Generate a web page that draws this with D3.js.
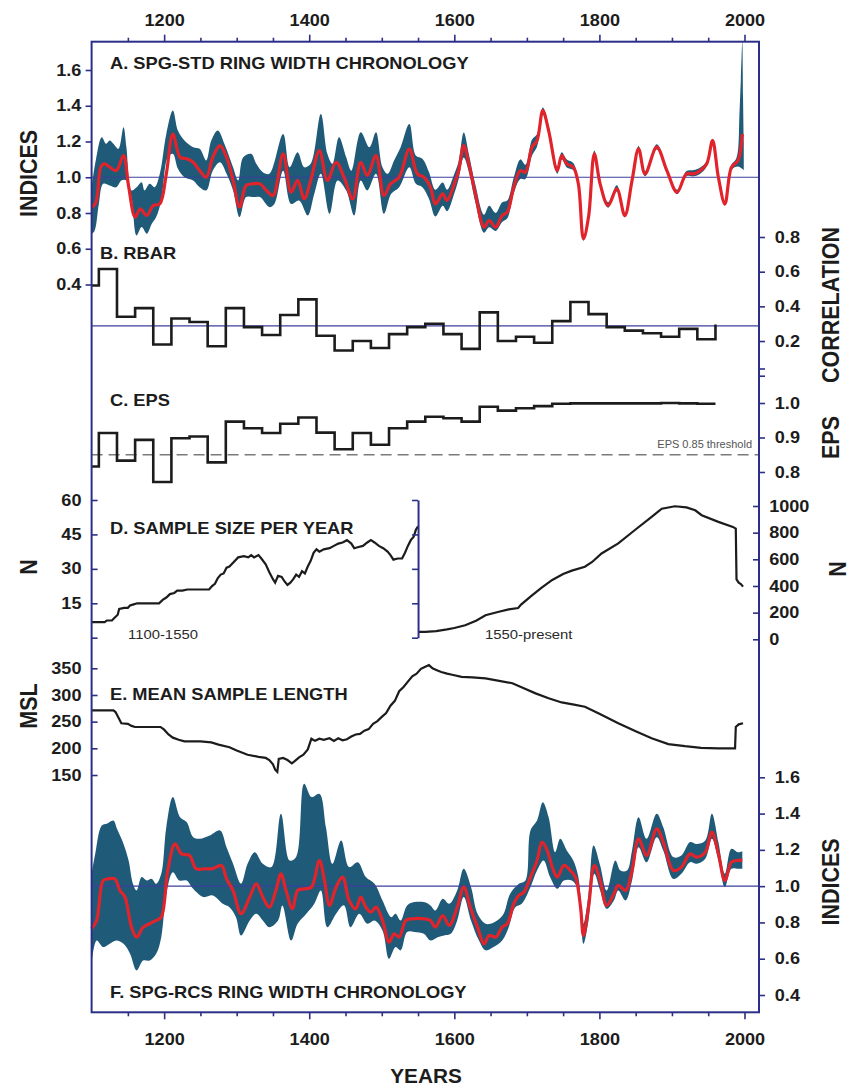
<!DOCTYPE html>
<html>
<head>
<meta charset="utf-8">
<script src="https://cdn.jsdelivr.net/npm/d3@7"></script>
<style>
  html, body { margin: 0; padding: 0; background: #fff; }
  svg { display: block; font-family: "Liberation Sans", Arial, sans-serif; }
</style>
</head>
<body>
<div id="chart"></div>
<script>
// ---- tick values ----
const yearMajor = [1200, 1400, 1600, 1800, 2000];
const yearMinor = [1150, 1250, 1300, 1350, 1450, 1500, 1550, 1650, 1700, 1750, 1850, 1900, 1950];
const indexTicks = [0.4, 0.6, 0.8, 1.0, 1.2, 1.4, 1.6];
const rbarTicks = [0, 0.2, 0.4, 0.6, 0.8];
const epsTicks = [0.8, 0.9, 1.0, 1.1];
const nLeftTicks = [0, 15, 30, 45, 60];
const nRightTicks = [0, 200, 400, 600, 800, 1000];
const mslTicks = [150, 200, 250, 300, 350];

// ---- A. SPG-STD chronology: smoothed index and its band ----
const stdMean = [[1100,0.83],[1106,0.86],[1113,1.06],[1118,1.075],[1125,1.056],[1134,1.037],[1144,1.121],[1151,0.95],[1160,0.777],[1167,0.823],[1176,0.786],[1185,0.842],[1194,0.851],[1203,1.019],[1212,1.242],[1222,1.112],[1231,1.103],[1240,1.084],[1249,1.037],[1258,1.0],[1267,1.112],[1277,1.177],[1286,1.112],[1295,0.982],[1304,0.833],[1313,0.954],[1322,0.963],[1332,0.963],[1341,0.926],[1350,0.898],[1364,1.131],[1375,0.917],[1384,0.982],[1393,0.879],[1402,0.982],[1414,1.149],[1425,0.982],[1437,1.084],[1448,1.0],[1460,0.879],[1471,1.084],[1480,1.01],[1492,1.121],[1503,0.898],[1512,0.963],[1524,1.0],[1538,1.158],[1549,1.019],[1558,1.0],[1567,0.945],[1574,0.851],[1584,0.907],[1590,0.87],[1600,0.963],[1606,1.037],[1613,1.177],[1620,1.075],[1629,0.907],[1641,0.721],[1648,0.758],[1657,0.721],[1666,0.786],[1673,0.805],[1682,0.945],[1691,1.037],[1698,1.028],[1707,1.168],[1714,1.205],[1722,1.373],[1730,1.261],[1742,1.037],[1748,1.121],[1755,1.075],[1764,1.056],[1771,0.963],[1778,0.656],[1785,0.777],[1793,1.131],[1801,0.963],[1812,0.842],[1824,0.935],[1835,0.786],[1845,0.982],[1854,1.159],[1863,1.019],[1879,1.168],[1893,1.037],[1907,0.916],[1920,1.019],[1930,1.019],[1939,1.037],[1948,1.075],[1956,1.205],[1964,1.0],[1973,0.851],[1982,1.056],[1991,1.093],[1997,1.242]];
const stdUpper = [[1100,0.944],[1106,1.1],[1114,1.224],[1120,1.187],[1125,1.205],[1130,1.187],[1137,1.159],[1144,1.28],[1148,1.168],[1155,0.926],[1162,0.944],[1169,0.972],[1173,0.926],[1180,0.963],[1187,0.944],[1194,1.019],[1203,1.242],[1212,1.373],[1219,1.261],[1228,1.205],[1240,1.168],[1249,1.159],[1258,1.094],[1265,1.205],[1274,1.261],[1283,1.187],[1295,1.056],[1302,0.982],[1309,1.112],[1320,1.131],[1327,1.075],[1336,1.028],[1345,1.019],[1364,1.242],[1373,1.056],[1384,1.14],[1393,1.056],[1402,1.075],[1416,1.354],[1425,1.131],[1432,1.075],[1441,1.224],[1451,1.112],[1458,1.037],[1471,1.252],[1483,1.168],[1492,1.252],[1501,1.056],[1508,1.019],[1517,1.094],[1526,1.168],[1538,1.298],[1547,1.121],[1556,1.103],[1565,1.03],[1574,0.93],[1584,0.97],[1590,0.93],[1600,1.02],[1606,1.09],[1613,1.25],[1620,1.13],[1629,0.96],[1641,0.79],[1648,0.84],[1657,0.80],[1666,0.86],[1673,0.87],[1682,1.0],[1691,1.10],[1698,1.07],[1707,1.21],[1714,1.24],[1722,1.39],[1730,1.29],[1742,1.06],[1748,1.14],[1755,1.10],[1764,1.08],[1771,0.98],[1778,0.67],[1785,0.79],[1793,1.15],[1801,0.98],[1812,0.86],[1824,0.955],[1835,0.80],[1845,1.0],[1854,1.175],[1863,1.035],[1879,1.185],[1893,1.05],[1907,0.93],[1920,1.035],[1930,1.04],[1939,1.055],[1948,1.09],[1956,1.215],[1964,1.01],[1973,0.86],[1982,1.07],[1988,1.10],[1991,1.15],[1993,1.35],[1995,1.55],[1997,1.76],[1998,1.45],[1999,1.2]];
const stdLower = [[1100,0.684],[1104,0.70],[1110,0.85],[1116,0.963],[1125,0.954],[1134,0.944],[1141,0.982],[1148,0.982],[1155,0.889],[1162,0.674],[1169,0.721],[1176,0.684],[1183,0.74],[1189,0.777],[1196,0.87],[1205,1.112],[1212,1.131],[1219,1.047],[1228,1.0],[1240,0.982],[1249,0.944],[1258,0.926],[1267,1.037],[1277,1.084],[1286,1.019],[1295,0.926],[1304,0.777],[1313,0.889],[1322,0.889],[1332,0.889],[1345,0.833],[1352,0.851],[1364,1.037],[1375,0.851],[1386,0.87],[1398,0.786],[1407,0.907],[1416,1.019],[1428,0.795],[1439,0.982],[1451,0.926],[1462,0.786],[1471,0.982],[1480,0.926],[1492,1.019],[1503,0.795],[1513,0.907],[1524,0.944],[1538,1.056],[1547,0.963],[1556,0.944],[1565,0.88],[1574,0.78],[1584,0.84],[1590,0.81],[1600,0.91],[1606,0.99],[1613,1.11],[1620,1.03],[1629,0.86],[1641,0.69],[1648,0.72],[1657,0.70],[1666,0.75],[1673,0.77],[1682,0.91],[1691,0.99],[1698,0.99],[1707,1.12],[1714,1.17],[1722,1.35],[1730,1.24],[1742,1.02],[1748,1.10],[1755,1.055],[1764,1.04],[1771,0.95],[1778,0.645],[1785,0.765],[1793,1.115],[1801,0.95],[1812,0.83],[1824,0.92],[1835,0.775],[1845,0.97],[1854,1.145],[1863,1.005],[1879,1.155],[1893,1.025],[1907,0.905],[1920,1.005],[1930,1.005],[1939,1.02],[1948,1.06],[1956,1.195],[1964,0.99],[1973,0.84],[1982,1.04],[1991,1.06],[1999,1.04]];

// ---- B. RBAR and C. EPS, 25-year windows ----
const windowStarts = [1100,1110,1135,1160,1185,1210,1235,1260,1285,1310,1335,1360,1385,1410,1435,1460,1485,1510,1535,1560,1585,1610,1635,1660,1685,1710,1735,1760,1785,1810,1835,1860,1885,1910,1935,1960];
const rbarValues = [0.52,0.615,0.34,0.39,0.18,0.33,0.31,0.17,0.39,0.28,0.235,0.35,0.44,0.23,0.145,0.20,0.16,0.24,0.28,0.30,0.24,0.155,0.365,0.20,0.225,0.19,0.315,0.425,0.355,0.28,0.26,0.245,0.225,0.27,0.21,0.296];
const epsValues = [0.816,0.913,0.833,0.893,0.771,0.898,0.903,0.828,0.946,0.927,0.913,0.94,0.958,0.914,0.866,0.913,0.879,0.927,0.946,0.96,0.956,0.946,0.989,0.978,0.985,0.991,0.998,0.999,0.999,0.999,0.999,0.999,1.0,0.999,0.998,0.998];
const rbarMean = 0.287;
const epsThreshold = 0.85;

// ---- D. sample size ----
const sampleEarly = [[1100,6.8],[1118,6.8],[1121,7.5],[1128,7.5],[1131,8.5],[1136,10],[1138,12.5],[1145,13],[1150,13],[1153,14],[1158,14.5],[1163,15],[1193,15],[1198,16.5],[1203,17.5],[1208,19],[1214,19.5],[1218,20.5],[1225,20.5],[1232,21],[1262,21],[1266,22.5],[1270,23.5],[1274,26],[1278,27.5],[1282,28],[1286,30.5],[1290,31],[1296,33],[1302,35],[1310,35.5],[1316,35],[1320,36],[1324,35],[1330,36],[1334,34.5],[1340,32],[1345,28.5],[1350,25.5],[1353,24],[1357,27],[1362,26.5],[1366,24.5],[1370,23],[1374,24],[1378,25.5],[1382,27.5],[1386,26.5],[1390,29],[1394,28],[1398,31],[1402,33.5],[1406,37],[1410,38.5],[1414,37.5],[1420,38.5],[1428,39],[1434,40],[1440,41],[1446,41.5],[1452,42.5],[1458,41],[1462,39],[1468,39.5],[1474,40],[1480,41.5],[1485,42.5],[1490,41.5],[1496,40],[1502,39],[1508,37.5],[1512,36],[1516,34],[1522,34.5],[1528,34.5],[1532,37],[1536,40],[1540,42.5],[1544,44],[1547,47],[1550,48.5]];
const sampleLate = [[1550,55],[1560,55],[1575,62],[1590,75],[1600,85],[1615,105],[1630,140],[1643,180],[1660,205],[1675,225],[1688,235],[1692,260],[1705,320],[1720,385],[1735,445],[1750,490],[1762,515],[1780,544],[1790,580],[1803,644],[1826,720],[1849,820],[1872,918],[1886,980],[1904,998],[1920,990],[1932,968],[1941,931],[1964,881],[1984,843],[1988,830],[1989,450],[1992,425],[1995,415],[1998,395]];

// ---- E. mean sample length ----
const meanLength = [[1100,271],[1130,271],[1133,268],[1138,255],[1141,247],[1150,246],[1155,242],[1160,240],[1195,240],[1200,235],[1206,226],[1212,220],[1220,216],[1228,213],[1250,213],[1265,211],[1275,207],[1290,202],[1300,196],[1315,188],[1330,184],[1340,182],[1345,178],[1350,170],[1353,160],[1356,156],[1358,180],[1364,182],[1370,178],[1376,172],[1380,176],[1386,183],[1392,188],[1398,198],[1403,218],[1408,214],[1414,218],[1420,216],[1428,219],[1434,214],[1440,219],[1446,215],[1452,217],[1458,222],[1464,226],[1470,227],[1476,233],[1482,236],[1488,246],[1494,251],[1500,259],[1506,266],[1512,280],[1518,289],[1524,307],[1530,315],[1536,325],[1542,335],[1548,340],[1554,349],[1560,353],[1565,356],[1570,350],[1575,347],[1582,343],[1590,340],[1597,338],[1610,334],[1625,333],[1643,331],[1660,327],[1680,322],[1695,313],[1712,303],[1730,294],[1748,286],[1765,282],[1780,278],[1800,265],[1826,247],[1850,232],[1872,219],[1895,208],[1918,204],[1940,201],[1964,200],[1987,200],[1988,240],[1992,245],[1998,247]];

// ---- F. SPG-RCS chronology ----
const rcsMean = [[1100,0.765],[1107,0.811],[1116,1.031],[1123,1.04],[1132,1.04],[1139,0.976],[1146,0.94],[1155,0.774],[1162,0.719],[1171,0.774],[1180,0.793],[1189,0.811],[1196,0.829],[1205,1.086],[1215,1.233],[1224,1.178],[1235,1.169],[1244,1.096],[1256,1.096],[1267,1.096],[1279,1.114],[1286,1.04],[1295,0.976],[1306,0.848],[1318,0.94],[1327,1.013],[1336,0.94],[1345,0.884],[1354,0.976],[1361,1.068],[1368,0.976],[1377,0.875],[1384,0.976],[1393,0.985],[1403,0.994],[1414,1.141],[1421,1.031],[1428,0.894],[1437,0.994],[1446,1.05],[1455,0.921],[1464,0.875],[1471,0.94],[1478,0.884],[1485,0.857],[1492,0.884],[1501,0.811],[1510,0.691],[1517,0.737],[1524,0.719],[1533,0.811],[1542,0.82],[1558,0.82],[1567,0.811],[1574,0.774],[1584,0.838],[1593,0.783],[1604,0.884],[1613,0.995],[1622,0.884],[1632,0.774],[1641,0.682],[1648,0.728],[1657,0.719],[1666,0.774],[1673,0.793],[1682,0.903],[1689,0.949],[1696,0.967],[1705,1.05],[1714,1.142],[1721,1.243],[1728,1.197],[1735,1.105],[1742,1.05],[1751,1.114],[1760,1.086],[1767,1.05],[1774,0.884],[1778,0.728],[1785,0.884],[1793,1.114],[1801,1.031],[1810,0.894],[1820,0.958],[1826,1.004],[1836,0.976],[1845,1.086],[1854,1.261],[1865,1.169],[1879,1.316],[1888,1.243],[1902,1.086],[1913,1.105],[1925,1.178],[1934,1.16],[1946,1.187],[1955,1.298],[1964,1.178],[1973,1.031],[1982,1.132],[1991,1.142],[1997,1.142]];
const rcsUpper = [[1100,1.068],[1105,1.178],[1114,1.334],[1121,1.344],[1130,1.362],[1135,1.316],[1144,1.233],[1151,1.141],[1157,1.013],[1162,0.976],[1169,1.05],[1176,1.031],[1183,1.04],[1189,1.013],[1196,1.068],[1203,1.325],[1212,1.491],[1222,1.38],[1231,1.353],[1240,1.27],[1249,1.261],[1263,1.279],[1277,1.307],[1286,1.215],[1295,1.123],[1306,1.013],[1315,1.123],[1325,1.187],[1336,1.123],[1348,1.105],[1361,1.399],[1373,1.141],[1382,1.16],[1393,1.564],[1403,1.491],[1414,1.509],[1423,1.325],[1432,1.123],[1444,1.252],[1455,1.105],[1467,1.132],[1478,1.05],[1490,1.013],[1501,0.921],[1513,0.829],[1519,0.848],[1526,0.811],[1535,0.894],[1545,0.912],[1558,0.912],[1567,0.894],[1574,0.866],[1584,0.93],[1593,0.903],[1604,0.976],[1613,1.096],[1623,0.995],[1632,0.848],[1643,0.793],[1650,0.793],[1659,0.811],[1668,0.848],[1677,0.958],[1689,1.013],[1698,1.031],[1705,1.307],[1714,1.362],[1722,1.463],[1730,1.38],[1739,1.187],[1746,1.261],[1755,1.197],[1764,1.142],[1771,1.05],[1778,0.793],[1785,0.958],[1792,1.224],[1801,1.114],[1810,0.976],[1822,1.142],[1829,1.086],[1838,1.086],[1845,1.197],[1854,1.38],[1865,1.261],[1879,1.399],[1888,1.325],[1902,1.16],[1913,1.169],[1925,1.243],[1934,1.233],[1946,1.252],[1955,1.399],[1964,1.243],[1973,1.068],[1982,1.206],[1991,1.187],[1997,1.193]];
const rcsLower = [[1100,0.572],[1107,0.7],[1116,0.664],[1125,0.682],[1134,0.7],[1144,0.682],[1153,0.627],[1162,0.535],[1171,0.59],[1180,0.59],[1189,0.627],[1196,0.719],[1203,0.958],[1212,1.077],[1221,1.031],[1231,1.031],[1240,0.985],[1254,0.94],[1267,0.949],[1281,0.903],[1290,0.884],[1299,0.829],[1306,0.728],[1318,0.811],[1327,0.848],[1336,0.811],[1345,0.774],[1357,0.811],[1363,0.894],[1375,0.7],[1384,0.793],[1396,0.848],[1407,0.903],[1416,0.976],[1425,0.774],[1437,0.848],[1448,0.894],[1457,0.774],[1469,0.848],[1480,0.793],[1490,0.811],[1501,0.756],[1510,0.6],[1519,0.664],[1526,0.646],[1535,0.747],[1545,0.747],[1558,0.737],[1567,0.7],[1577,0.719],[1586,0.728],[1595,0.737],[1604,0.811],[1613,0.94],[1623,0.811],[1634,0.7],[1643,0.646],[1654,0.664],[1666,0.7],[1675,0.774],[1684,0.884],[1693,0.903],[1705,0.995],[1714,1.086],[1723,1.142],[1732,1.05],[1742,0.985],[1751,1.031],[1762,1.031],[1771,0.976],[1778,0.682],[1785,0.811],[1793,1.068],[1801,0.976],[1810,0.875],[1820,0.921],[1826,0.976],[1836,0.921],[1845,1.031],[1854,1.215],[1865,1.132],[1879,1.27],[1888,1.197],[1902,1.04],[1913,1.068],[1925,1.132],[1934,1.123],[1946,1.151],[1955,1.261],[1964,1.142],[1973,0.995],[1982,1.096],[1991,1.096],[1997,1.096]];

// ---- drawing ----
const W = 856, H = 1088;
const NAVY = "#2c2f88";
const REF = "#3d3f9e";
const BAND = "#1f5a79";
const RED = "#e1242b";
const INK = "#1c1c1c";
const SX = 1.13; // glyphs in the figure are a bit wider than tall

const frame = { left: 91.6, right: 759, top: 41.7, bottom: 1012.3 };

const x = d3.scaleLinear().domain([1100, 2020]).range([frame.left, frame.right]);
const yA = d3.scaleLinear().domain([0.4, 1.6]).range([284.5, 70]);
const yB = d3.scaleLinear().domain([0, 0.8]).range([375.7, 237]);
const yC = d3.scaleLinear().domain([0.8, 1.1]).range([472, 368.5]);
const yD1 = d3.scaleLinear().domain([0, 60]).range([637.7, 500]);
const yD2 = d3.scaleLinear().domain([0, 1000]).range([639.3, 506]);
const yE = d3.scaleLinear().domain([150, 350]).range([775, 668.3]);
const yF = d3.scaleLinear().domain([0.4, 1.6]).range([995, 777.3]);

const svg = d3.select("#chart").append("svg")
  .attr("width", W).attr("height", H).attr("viewBox", [0, 0, W, H]);

function addText(str, tx, ty, opts = {}) {
  const { size = 16, weight = "bold", anchor = "start", rotate = false, sx = SX, fill = INK } = opts;
  const t = svg.append("text")
    .attr("font-size", size).attr("font-weight", weight)
    .attr("text-anchor", anchor).attr("fill", fill)
    .text(str);
  if (rotate) {
    t.attr("dy", "0.35em").attr("transform", `translate(${tx},${ty}) rotate(-90) scale(1,${sx})`);
  } else {
    t.attr("transform", `translate(${tx},${ty}) scale(${sx},1)`);
  }
  return t;
}

function styleAxis(g, showLabel) {
  g.attr("font-size", null).attr("font-family", null);
  g.select(".domain").remove();
  g.selectAll(".tick line").attr("stroke", NAVY).attr("stroke-width", 1.6);
  g.selectAll(".tick text")
    .attr("fill", INK).attr("font-size", 16).attr("font-weight", "bold")
    .attr("transform", `scale(${SX},1)`)
    .text(function (d) { return showLabel(d) ? this.textContent : ""; });
}

const line = (y, curve = d3.curveLinear) =>
  d3.line().x((d) => x(d[0])).y((d) => y(d[1])).curve(curve);

function bandPath(upper, lower, y) {
  const l = line(y, d3.curveCatmullRom.alpha(0.5));
  const top = l(upper);
  const bottom = l(lower.slice().reverse());
  return top + "L" + bottom.slice(1) + "Z";
}

// chronology bands and means
[[stdUpper, stdLower, stdMean, yA], [rcsUpper, rcsLower, rcsMean, yF]].forEach(([up, lo, mean, y]) => {
  svg.append("path").attr("d", bandPath(up, lo, y)).attr("fill", BAND);
  svg.append("line")
    .attr("x1", frame.left).attr("x2", frame.right)
    .attr("y1", y(1)).attr("y2", y(1))
    .attr("stroke", REF).attr("stroke-width", 1.2);
  svg.append("path").datum(mean)
    .attr("d", line(y, d3.curveCatmullRom.alpha(0.5)))
    .attr("fill", "none").attr("stroke", RED).attr("stroke-width", 3.2)
    .attr("stroke-linejoin", "round");
});

// RBAR
svg.append("line")
  .attr("x1", frame.left).attr("x2", frame.right)
  .attr("y1", yB(rbarMean)).attr("y2", yB(rbarMean))
  .attr("stroke", REF).attr("stroke-width", 1.2);
svg.append("path").datum(windowStarts.map((yr, i) => [yr, rbarValues[i]]))
  .attr("d", line(yB, d3.curveStepAfter))
  .attr("fill", "none").attr("stroke", INK).attr("stroke-width", 2.6);

// EPS
svg.append("line")
  .attr("x1", frame.left).attr("x2", frame.right)
  .attr("y1", yC(epsThreshold)).attr("y2", yC(epsThreshold))
  .attr("stroke", "#7a7a7a").attr("stroke-width", 1.4)
  .attr("stroke-dasharray", "11,6");
svg.append("path").datum(windowStarts.map((yr, i) => [yr, epsValues[i]]))
  .attr("d", line(yC, d3.curveStepAfter))
  .attr("fill", "none").attr("stroke", INK).attr("stroke-width", 2.6);

// sample size
svg.append("path").datum(sampleEarly)
  .attr("d", line(yD1)).attr("fill", "none").attr("stroke", INK).attr("stroke-width", 2.2);
svg.append("path").datum(sampleLate)
  .attr("d", line(yD2)).attr("fill", "none").attr("stroke", INK).attr("stroke-width", 2.2);

// mean sample length
svg.append("path").datum(meanLength)
  .attr("d", line(yE)).attr("fill", "none").attr("stroke", INK).attr("stroke-width", 2.2);

// frame
svg.append("rect")
  .attr("x", frame.left).attr("y", frame.top)
  .attr("width", frame.right - frame.left).attr("height", frame.bottom - frame.top)
  .attr("fill", "none").attr("stroke", NAVY).attr("stroke-width", 2);

// year axes, top and bottom
const fmtYear = d3.format("d");
svg.append("g").attr("transform", `translate(0,${frame.top})`)
  .call(d3.axisTop(x).tickValues(yearMajor).tickFormat(fmtYear).tickSize(7).tickPadding(9))
  .call((g) => styleAxis(g, () => true));
svg.append("g").attr("transform", `translate(0,${frame.top})`)
  .call(d3.axisTop(x).tickValues(yearMinor).tickFormat("").tickSize(4))
  .call((g) => styleAxis(g, () => false));
svg.append("g").attr("transform", `translate(0,${frame.bottom})`)
  .call(d3.axisBottom(x).tickValues(yearMajor).tickFormat(fmtYear).tickSize(7).tickPadding(14))
  .call((g) => styleAxis(g, () => true));
svg.append("g").attr("transform", `translate(0,${frame.bottom})`)
  .call(d3.axisBottom(x).tickValues(yearMinor).tickFormat("").tickSize(4))
  .call((g) => styleAxis(g, () => false));

const fmt1 = d3.format(".1f");
const fmtInt = d3.format("d");

// left: indices (A)
svg.append("g").attr("transform", `translate(${frame.left},0)`)
  .call(d3.axisLeft(yA).tickValues(indexTicks).tickFormat(fmt1).tickSize(6).tickPadding(3))
  .call((g) => styleAxis(g, () => true));

// right: correlation (B) and EPS (C)
svg.append("g").attr("transform", `translate(${frame.right},0)`)
  .call(d3.axisRight(yB).tickValues(rbarTicks).tickFormat(fmt1).tickSize(6).tickPadding(8))
  .call((g) => styleAxis(g, (d) => d > 0));
svg.append("g").attr("transform", `translate(${frame.right},0)`)
  .call(d3.axisRight(yC).tickValues(epsTicks).tickFormat(fmt1).tickSize(6).tickPadding(8))
  .call((g) => styleAxis(g, (d) => d < 1.05));

// sample size: left axis, divider at 1550, right axis
svg.append("g").attr("transform", `translate(${frame.left},0)`)
  .call(d3.axisLeft(yD1).tickValues(nLeftTicks).tickFormat(fmtInt).tickSize(-6).tickPadding(9))
  .call((g) => styleAxis(g, (d) => d > 0));
svg.append("g").attr("transform", `translate(${x(1550)},0)`)
  .call(d3.axisLeft(yD1).tickValues(nLeftTicks).tickFormat("").tickSize(6).tickSizeOuter(0))
  .call((g) => {
    g.attr("font-size", null).attr("font-family", null);
    g.select(".domain").attr("stroke", NAVY).attr("stroke-width", 2);
    g.selectAll(".tick line").attr("stroke", NAVY).attr("stroke-width", 1.6);
  });
svg.append("g").attr("transform", `translate(${frame.right},0)`)
  .call(d3.axisRight(yD2).tickValues(nRightTicks).tickFormat(fmtInt).tickSize(-6).tickPadding(9))
  .call((g) => styleAxis(g, () => true));

// mean sample length axis
svg.append("g").attr("transform", `translate(${frame.left},0)`)
  .call(d3.axisLeft(yE).tickValues(mslTicks).tickFormat(fmtInt).tickSize(-6).tickPadding(9))
  .call((g) => styleAxis(g, () => true));

// right: indices (F)
svg.append("g").attr("transform", `translate(${frame.right},0)`)
  .call(d3.axisRight(yF).tickValues(indexTicks).tickFormat(fmt1).tickSize(6).tickPadding(8))
  .call((g) => styleAxis(g, () => true));

// panel titles
addText("A. SPG-STD RING WIDTH CHRONOLOGY", 110, 68.5, { size: 16.2 });
addText("B. RBAR", 100, 258.5, { size: 16.2 });
addText("C. EPS", 110, 405.5, { size: 16.2 });
addText("D. SAMPLE SIZE PER YEAR", 110, 533.5, { size: 16.2 });
addText("E. MEAN SAMPLE LENGTH", 110, 700, { size: 16.2 });
addText("F. SPG-RCS RING WIDTH CHRONOLOGY", 110, 998, { size: 16.2 });

// small notes
addText("1100-1550", 128, 638.5, { size: 13.5, weight: "normal", sx: 1.1, fill: "#2a2a2a" });
addText("1550-present", 485, 638.5, { size: 13.5, weight: "normal", sx: 1.1, fill: "#2a2a2a" });
addText("EPS 0.85 threshold", 752, 448, { size: 10, weight: "normal", anchor: "end", sx: 1.1, fill: "#555" });

// axis titles
addText("INDICES", 28.5, 173.5, { size: 21.5, anchor: "middle", rotate: true });
addText("N", 28.5, 567, { size: 21.5, anchor: "middle", rotate: true });
addText("MSL", 28.5, 706, { size: 21.5, anchor: "middle", rotate: true });
addText("CORRELATION", 830.5, 305, { size: 21.5, anchor: "middle", rotate: true });
addText("EPS", 830.5, 437.5, { size: 21.5, anchor: "middle", rotate: true });
addText("N", 837, 569, { size: 21.5, anchor: "middle", rotate: true });
addText("INDICES", 830.5, 882, { size: 21.5, anchor: "middle", rotate: true });
addText("YEARS", 426, 1083, { size: 20, anchor: "middle", sx: 1.04 });
</script>
</body>
</html>
